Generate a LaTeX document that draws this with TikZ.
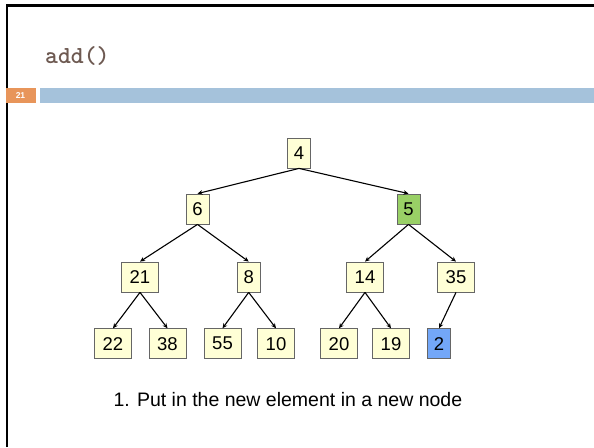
\documentclass[tikz,border=0pt]{standalone}
\usepackage{fontspec}
\setmainfont{Liberation Sans}
\usetikzlibrary{arrows.meta}
\definecolor{heapfill}{HTML}{FFFFD6}
\definecolor{heapgreen}{HTML}{99D066}
\definecolor{heapblue}{HTML}{73A7F8}
\definecolor{titlebrown}{HTML}{6E5A52}
\definecolor{barblue}{HTML}{A5C2DB}
\definecolor{barorange}{HTML}{E8955A}

\begin{document}
\begin{tikzpicture}[x=1pt, y=-1pt,
    heapnode/.style={draw=black!60, fill=heapfill, line width=0.8pt, minimum height=30pt, inner sep=0pt, font=\fontsize{18.5}{18.5}\selectfont},
    narrow/.style={heapnode, minimum width=23pt},
    wide/.style={heapnode, minimum width=37pt},
    heaparrow/.style={-{Stealth[length=5pt, width=4.5pt]}, line width=1.1pt}]
    \useasboundingbox (0,0) rectangle (594,447);
    \fill[white] (0,0) rectangle (594,447);
    \draw[line width=2.3pt] (7,447) -- (7,5.5) -- (594,5.5);
    
    \node[anchor=base west, inner sep=0pt, text=titlebrown, font=\ttfamily\bfseries\fontsize{24.5}{24.5}\selectfont] (title) at (45,63) {add()};
    \fill[barorange] (6,88) rectangle (36,102.5);
    \fill[barblue] (39.5,88) rectangle (594,102.5);
    \node[text=white, font=\bfseries\fontsize{8.5}{8.5}\selectfont] (slideno) at (20.5,95.3) {21};
    
    \node[narrow] (n4) at (299,153) {4};
    \node[narrow] (n6) at (197.5,209) {6};
    \node[narrow, fill=heapgreen] (n5) at (408.5,209) {5};
    \node[wide] (n21) at (140,277) {21};
    \node[narrow] (n8) at (248.7,277) {8};
    \node[wide] (n14) at (365,277) {14};
    \node[wide] (n35) at (456,277) {35};
    \node[wide] (n22) at (113,343.7) {22};
    \node[wide] (n38) at (167.5,343.7) {38};
    \node[wide] (n55) at (222.5,343.7) {55};
    \node[wide] (n10) at (276,343.7) {10};
    \node[wide] (n20) at (339,343.7) {20};
    \node[wide] (n19) at (391,343.7) {19};
    \node[narrow, fill=heapblue] (n2) at (439,343.7) {2};
    
    \draw[heaparrow] (n4.south) -- (n6.north);
    \draw[heaparrow] (n4.south) -- (n5.north);
    \draw[heaparrow] (n6.south) -- (n21.north);
    \draw[heaparrow] (n6.south) -- (n8.north);
    \draw[heaparrow] (n5.south) -- (n14.north);
    \draw[heaparrow] (n5.south) -- (n35.north);
    \draw[heaparrow] (n21.south) -- (n22.north);
    \draw[heaparrow] (n21.south) -- (n38.north);
    \draw[heaparrow] (n8.south) -- (n55.north);
    \draw[heaparrow] (n8.south) -- (n10.north);
    \draw[heaparrow] (n14.south) -- (n20.north);
    \draw[heaparrow] (n14.south) -- (n19.north);
    \draw[heaparrow] (n35.south) -- (n2.north);
    
    \node[anchor=west, font=\fontsize{19.5}{19.5}\selectfont] (step1) at (110,400) {1. Put in the new element in a new node};
\end{tikzpicture}
\end{document}
